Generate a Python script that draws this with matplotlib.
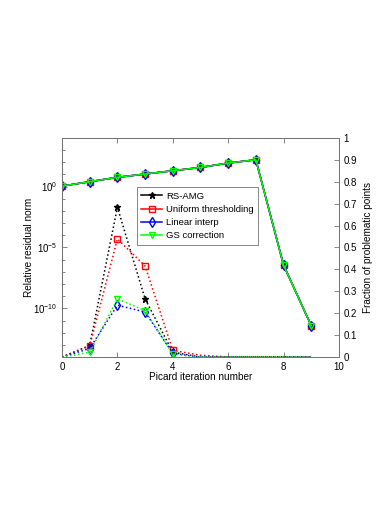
"""
Residual norm en fractie problematische punten per Picard iteratie.
"""

import matplotlib
matplotlib.use('Agg')
import matplotlib.pyplot as plt
import matplotlib.ticker as ticker

plt.rcParams['font.family'] = ['Liberation Sans', 'DejaVu Sans']
plt.rcParams['mathtext.fontset'] = 'custom'
plt.rcParams['mathtext.rm'] = 'Liberation Sans'
plt.rcParams['mathtext.it'] = 'Liberation Sans'

iteraties = [0, 1, 2, 3, 4, 5, 6, 7, 8, 9]
namen = ['RS-AMG', 'Uniform thresholding', 'Linear interp', 'GS correction']

# relatieve residu norm (linker as, log)
res_rsamg = [1e-14, 9e-14, 2e-2, 6e-10, 2.5e-14, 1e-14, 1e-14, 1e-14, 1e-14, 1e-14]
res_uniform = [1e-14, 8e-14, 5e-5, 3e-7, 3.5e-14, 1.4e-14, 1e-14, 1e-14, 1e-14, 1e-14]
res_linear = [1e-14, 5e-14, 1.8e-10, 5e-11, 2e-14, 1e-14, 1e-14, 1e-14, 1e-14, 1e-14]
res_gs = [1e-14, 2.5e-14, 6e-10, 6.5e-11, 1.7e-14, 1e-14, 1e-14, 1e-14, 1e-14, 1e-14]

# fractie problematische punten (rechter as)
frac_rsamg = [0.78, 0.80, 0.82, 0.835, 0.85, 0.865, 0.885, 0.90, 0.42, 0.143]
frac_uniform = [0.78, 0.80, 0.82, 0.835, 0.85, 0.865, 0.885, 0.90, 0.42, 0.143]
frac_linear = [0.78, 0.80, 0.82, 0.835, 0.85, 0.865, 0.885, 0.90, 0.42, 0.143]
frac_gs = [0.78, 0.80, 0.82, 0.835, 0.85, 0.865, 0.885, 0.90, 0.42, 0.143]

kleuren = ['k', 'r', 'b', '#00ff00']
markers = ['*', 's', 'd', 'v']

fig = plt.figure(figsize=(3.9, 5.05), dpi=100)
ax = fig.add_axes([0.159, 0.293, 0.71, 0.434])
ax2 = ax.twinx()

residuen = [res_rsamg, res_uniform, res_linear, res_gs]
fracties = [frac_rsamg, frac_uniform, frac_linear, frac_gs]

for res, kleur, m in zip(residuen, kleuren, markers):
    ax.semilogy(iteraties, res, ':', color=kleur, marker=m, markersize=5,
                markerfacecolor='none' if m != '*' else kleur,
                markevery=[1, 2, 3, 4], linewidth=1.1)

lijnen = []
for frac, kleur, m, naam in zip(fracties, kleuren, markers, namen):
    l, = ax2.plot(iteraties, frac, '-', color=kleur, marker=m, markersize=5,
                  markerfacecolor='none' if m != '*' else kleur,
                  linewidth=1.1, label=naam)
    lijnen.append(l)

ax.set_xlim(0, 10)
ax.set_ylim(1e-14, 1e4)
ax.set_xticks([0, 2, 4, 6, 8, 10])
ax.set_yticks([1e-10, 1e-5, 1e0])
ax.yaxis.set_minor_locator(ticker.FixedLocator([10.0 ** k for k in range(-14, 5)]))
ax.yaxis.set_minor_formatter(ticker.NullFormatter())

ax2.set_ylim(0, 1)
ax2.set_yticks([i / 10 for i in range(11)])
ax2.set_yticklabels(['0', '0.1', '0.2', '0.3', '0.4', '0.5', '0.6', '0.7',
                     '0.8', '0.9', '1'])

for a in (ax, ax2):
    for s in a.spines.values():
        s.set_color('0.45')
        s.set_linewidth(0.7)
    a.tick_params(which='both', direction='in', colors='0.45', labelcolor='k',
                  labelsize=7)
    a.tick_params(which='major', length=3.5, width=0.6)
    a.tick_params(which='minor', length=2.2, width=0.6)
ax.tick_params(axis='x', top=True)

ax.set_xlabel('Picard iteration number', fontsize=7.2, labelpad=0)
ax.set_ylabel('Relative residual norm', fontsize=7.2, labelpad=-1)
ax2.set_ylabel('Fraction of problematic points', fontsize=7.2, labelpad=4)

leg = ax2.legend(handles=lijnen, loc='upper left', bbox_to_anchor=(0.27, 0.776),
                 borderaxespad=0, fontsize=6.8, fancybox=False, framealpha=1,
                 edgecolor='0.45', handlelength=2.2, labelspacing=0.45,
                 handletextpad=0.4, borderpad=0.5)
leg.get_frame().set_linewidth(0.6)

plt.savefig('out.png', dpi=100)
